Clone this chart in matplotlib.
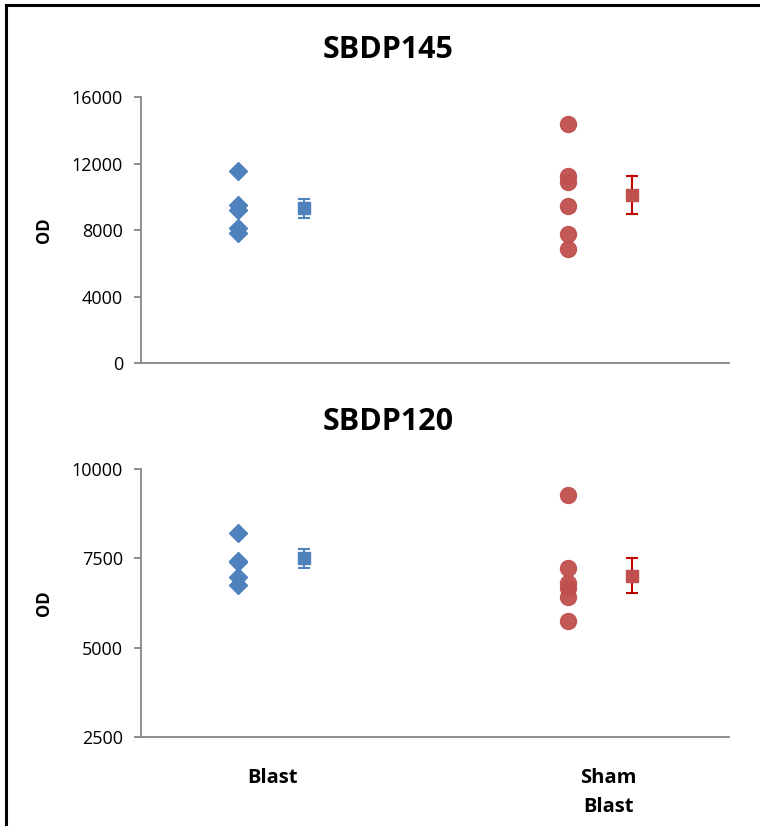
import matplotlib
matplotlib.use("Agg")
import matplotlib.pyplot as plt
from matplotlib.lines import Line2D

plt.rcParams['font.family'] = ['Open Sans', 'DejaVu Sans']

categories = ["Blast", "Sham\nBlast"]
titles = ["SBDP145", "SBDP120"]

# SBDP145
blast_145 = [11550, 9530, 9230, 8150, 7800]
sham_145 = [14380, 11260, 10900, 9470, 7790, 6830]
means_145 = [9300, 10100]
errs_145 = [560, 1130]

# SBDP120
blast_120 = [8200, 7420, 7400, 6970, 6760]
sham_120 = [9270, 7230, 6800, 6670, 6420, 5740]
means_120 = [7500, 7020]
errs_120 = [265, 490]

yticks_145 = [0, 4000, 8000, 12000, 16000]
yticks_120 = [2500, 5000, 7500, 10000]

blue = "#4F81BD"
red = "#C0504D"
red_err = "#C00000"
grey = "#868686"

fig = plt.figure(figsize=(7.6, 8.26), dpi=100)
ax1 = fig.add_axes([0.1855, 0.5605, 0.7737, 0.322])
ax2 = fig.add_axes([0.1855, 0.1077, 0.7737, 0.3245])

panels = [
    (ax1, blast_145, sham_145, means_145, errs_145, yticks_145, titles[0]),
    (ax2, blast_120, sham_120, means_120, errs_120, yticks_120, titles[1]),
]

for ax, blast, sham, means, errs, yt, title in panels:
    ax.plot([0.90] * len(blast), blast, 'D', color=blue, ms=9.5, mec=blue)
    ax.plot([1.88] * len(sham), sham, 'o', color=red, ms=11.5, mec=red, alpha=0.95)
    ax.errorbar([1.095], [means[0]], yerr=[errs[0]], fmt='s', color=blue,
                ms=8, ecolor=blue, elinewidth=1.5, capsize=4, capthick=1.5)
    ax.errorbar([2.07], [means[1]], yerr=[errs[1]], fmt='s', color=red,
                ms=8, ecolor=red_err, elinewidth=1.5, capsize=4, capthick=1.5)

    ax.set_xlim(0.61, 2.36)
    ax.set_ylim(yt[0], yt[-1])
    ax.set_yticks(yt)
    ax.set_yticklabels([str(v) for v in yt], fontsize=13)
    for s in ['top', 'right']:
        ax.spines[s].set_visible(False)
    for s in ['left', 'bottom']:
        ax.spines[s].set_color(grey)
        ax.spines[s].set_linewidth(1.3)
    ax.tick_params(axis='y', length=5, width=1.3, color=grey, pad=8)
    ax.set_ylabel("OD", fontsize=12, fontweight='bold')
    ax.yaxis.set_label_coords(-0.15, 0.5)

fig.text(388 / 760, 1 - 50 / 826, titles[0], ha='center', va='center',
         fontsize=22, fontweight='bold')
fig.text(388 / 760, 1 - 422 / 826, titles[1], ha='center', va='center',
         fontsize=22, fontweight='bold')

ax1.set_xticks([])
ax2.set_xticks([1, 2])
ax2.set_xticklabels(categories, fontsize=14.5, fontweight='bold', linespacing=1.6)
ax2.tick_params(axis='x', length=0, pad=22)

# chart border (left and top only visible)
fig.add_artist(Line2D([6 / 760, 6 / 760], [0, 1 - 5 / 826], color='black', lw=2.2))
fig.add_artist(Line2D([6 / 760, 1], [1 - 5 / 826, 1 - 5 / 826], color='black', lw=2.2))

fig.savefig("out.png", dpi=100)
